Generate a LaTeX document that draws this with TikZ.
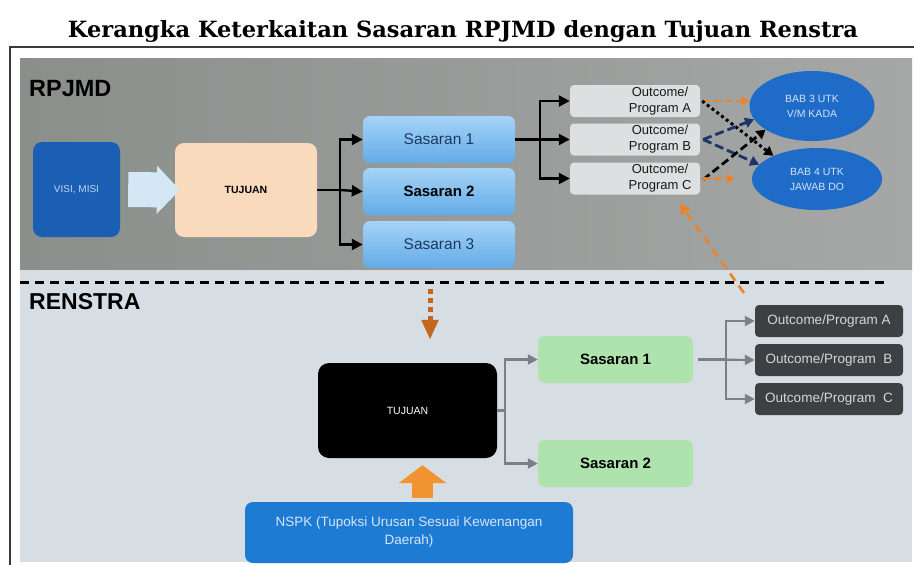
\documentclass[tikz,border=0pt]{standalone}
\usepackage{fontspec}
\setmainfont{Liberation Sans}
\newfontfamily\titlefont{DejaVu Serif}
\usetikzlibrary{arrows.meta,shapes.geometric,calc}
\definecolor{topgreyL}{HTML}{8B8F8C}
\definecolor{topgreyR}{HTML}{A5A8A6}
\definecolor{lowpanel}{HTML}{D6DEE3}
\definecolor{visiblue}{HTML}{1B5FB5}
\definecolor{visitext}{HTML}{BCD6F0}
\definecolor{peach}{HTML}{F9DABD}
\definecolor{sasTop}{HTML}{A6D3F7}
\definecolor{sasBot}{HTML}{62ABE7}
\definecolor{sastext}{HTML}{1E3A5F}
\definecolor{outT}{HTML}{DDE0E1}
\definecolor{babblue}{HTML}{1F6BC8}
\definecolor{babtext}{HTML}{D3E2F3}
\definecolor{sgreen}{HTML}{AEE3AE}
\definecolor{outL}{HTML}{3C4043}
\definecolor{outLtext}{HTML}{D3D7DA}
\definecolor{nspkblue}{HTML}{1E7BD3}
\definecolor{nspktext}{HTML}{D6E6F7}
\definecolor{orgup}{HTML}{F19331}
\definecolor{orgdark}{HTML}{C4661F}
\definecolor{orgdash}{HTML}{E8842A}
\definecolor{navy}{HTML}{1C3466}
\definecolor{lgrey}{HTML}{7B8084}
\definecolor{arrowblue}{HTML}{D4E7F5}
\definecolor{framegrey}{HTML}{3A3A3A}
\begin{document}
\begin{tikzpicture}[x=1pt,y=-1pt,
  box/.style={rounded corners=7pt, inner sep=0pt, align=center},
  sasT/.style={box, top color=sasTop, bottom color=sasBot, minimum width=152pt, minimum height=47pt, text=sastext, font=\fontsize{15.5}{18}\selectfont},
  obox/.style={box, fill=outT, minimum width=130pt, minimum height=32pt, rounded corners=4pt},
  otext/.style={align=center, text=black!90, font=\fontsize{13}{16}\selectfont, inner sep=0pt},
  bab/.style={ellipse, fill=babblue, inner sep=0pt, text=babtext, align=center, font=\fontsize{10.5}{15}\selectfont},
  sasL/.style={box, fill=sgreen, minimum width=155pt, minimum height=47pt, font=\bfseries\fontsize{15}{18}\selectfont},
  outLbox/.style={box, fill=outL, minimum width=148pt, minimum height=32pt, rounded corners=4pt, text=outLtext, font=\fontsize{13.5}{16}\selectfont},
  conn/.style={line width=2.4pt, draw=black, -{Triangle[length=11pt,width=11pt]}},
  gconn/.style={line width=2.2pt, draw=lgrey, -{Triangle[length=10pt,width=10pt]}},
  odash/.style={line width=2.6pt, draw=orgdash, dash pattern=on 7pt off 4pt, -{Triangle[length=8pt,width=9pt]}},
  bdot/.style={line width=3pt, draw=black, dash pattern=on 3pt off 3pt, -{Triangle[length=9pt,width=10pt]}},
  ndash/.style={line width=2.8pt, draw=navy, dash pattern=on 9pt off 4pt, -{Triangle[length=9pt,width=10pt]}},
  bdash/.style={line width=2.8pt, draw=black, dash pattern=on 8pt off 4pt, -{Triangle[length=9pt,width=10pt]}}
]
\useasboundingbox (0,0) rectangle (914,565);
\fill[white] (0,0) rectangle (914,565);
% title
\node[anchor=base, inner sep=0pt] (title) at (463,37) {\titlefont\bfseries\resizebox{790pt}{17pt}{Kerangka Keterkaitan Sasaran RPJMD dengan Tujuan Renstra}};
% frame
\draw[framegrey, line width=2pt] (10,566) -- (10,47) -- (915,47);
% panels
\shade[left color=topgreyL, right color=topgreyR] (20,58) rectangle (912,270);
\fill[lowpanel] (20,270) rectangle (912,562);
% section labels
\node[anchor=base west, inner sep=0pt, font=\bfseries\fontsize{23.5}{24}\selectfont] (rpjmd) at (29,96) {RPJMD};
\node[anchor=base west, inner sep=0pt, font=\bfseries\fontsize{23}{24}\selectfont] (renstra) at (29,309) {RENSTRA};
% separator
\coordinate (sepL) at (20,282);
\coordinate (sepR) at (887,282);
\draw[line width=3pt, dash pattern=on 9pt off 6pt] (sepL) -- (sepR);

% ---------- RPJMD ----------
\node[box, fill=visiblue, minimum width=87pt, minimum height=95pt, rounded corners=9pt, text=visitext, font=\fontsize{10}{12}\selectfont] (visi) at (76.5,189.5) {VISI, MISI};
\node[box, fill=peach, minimum width=142pt, minimum height=94pt, rounded corners=9pt, font=\bfseries\fontsize{10.5}{12}\selectfont] (tuj1) at (246,190) {TUJUAN};
\draw[line width=35pt, draw=arrowblue, -{Triangle[width=47pt,length=23pt]}, shorten >=-5pt] ([xshift=8pt]visi.east) -- (tuj1.west);

\node[sasT] (sas1) at (439,139.5) {Sasaran 1};
\node[sasT, text=black, font=\bfseries\fontsize{15}{18}\selectfont] (sas2) at (439,191.5) {Sasaran 2};
\node[sasT] (sas3) at (439,244.5) {Sasaran 3};
\draw[line width=2.4pt] (tuj1.east) -- ++(23,0);
\draw[conn] ([xshift=23pt]tuj1.east) |- (sas1.west);
\draw[conn] ([xshift=23pt]tuj1.east) -- (sas2.west);
\draw[conn] ([xshift=23pt]tuj1.east) |- (sas3.west);

\node[obox, label={[otext, xshift=25pt]center:Outcome/\\Program A}] (outA) at (635,101) {};
\node[obox, label={[otext, xshift=25pt]center:Outcome/\\Program B}] (outB) at (635,139.5) {};
\node[obox, label={[otext, xshift=25pt]center:Outcome/\\Program C}] (outC) at (635,178.5) {};
\draw[line width=2.4pt] (sas1.east) -- ++(25,0);
\draw[conn] ([xshift=25pt]sas1.east) |- (outA.west);
\draw[conn] ([xshift=25pt]sas1.east) -- (outB.west);
\draw[conn] ([xshift=25pt]sas1.east) |- (outC.west);

\node[bab, minimum width=125pt, minimum height=70pt] (bab3) at (812,106) {BAB 3 UTK\\V/M KADA};
\node[bab, minimum width=130pt, minimum height=62pt] (bab4) at (817,179) {BAB 4 UTK\\JAWAB DO};

\draw[odash] ([xshift=3pt]outA.east) -- (bab3.west |- outA.east);
\draw[bdot] ([xshift=2pt]outA.east) -- (bab4.152);
\draw[ndash] ([xshift=3pt]outB.east) -- (bab3.193);
\draw[ndash] ([xshift=3pt]outB.east) -- (bab4.166);
\draw[bdash] ([xshift=3pt,yshift=-1pt]outC.east) -- (bab3.207);
\coordinate (ocEnd) at (735,179);
\draw[odash] ([xshift=3pt]outC.east) -- (ocEnd);
\coordinate (oStart) at (744,293);
\draw[odash, dash pattern=on 9pt off 6pt, -{Triangle[length=10pt,width=11pt]}] (oStart) -- ([xshift=45pt,yshift=-9pt]outC.south);

% ---------- RENSTRA ----------
\node[box, fill=black, minimum width=179pt, minimum height=95pt, rounded corners=11pt, text=white, font=\fontsize{10.5}{12}\selectfont] (tuj2) at (407.5,410.5) {TUJUAN};
\coordinate (dStart) at (430,289);
\draw[line width=5pt, draw=orgdark, dash pattern=on 5pt off 4pt, -{Triangle[width=16pt,length=20pt]}, shorten >=23pt] (dStart) -- (dStart |- tuj2.north);

\node[box, fill=nspkblue, minimum width=328pt, minimum height=61pt, rounded corners=8pt, text=nspktext, font=\fontsize{13.5}{18}\selectfont] (nspk) at (409,532.5) {NSPK (Tupoksi Urusan Sesuai Kewenangan\\Daerah)};
\draw[line width=21pt, draw=orgup, -{Triangle[width=47pt,length=18pt]}] ([xshift=13.5pt,yshift=4pt]nspk.north) -- ([xshift=15pt,yshift=-7pt]tuj2.south);

\node[sasL] (sasL1) at (615.5,359.5) {Sasaran 1};
\node[sasL] (sasL2) at (615.5,463.5) {Sasaran 2};
\draw[line width=2.2pt, draw=lgrey] (tuj2.east) -- ++(8,0);
\draw[gconn] ([xshift=8pt]tuj2.east) |- (sasL1.west);
\draw[gconn] ([xshift=8pt]tuj2.east) |- (sasL2.west);

\node[outLbox] (outLA) at (829,321) {Outcome/Program A};
\node[outLbox] (outLB) at (829,360) {Outcome/Program\ \ B};
\node[outLbox] (outLC) at (829,399) {Outcome/Program\ \ C};
\draw[line width=2.2pt, draw=lgrey] ([xshift=5pt]sasL1.east) -- ++(29,0);
\draw[gconn] ([xshift=33pt]sasL1.east) |- (outLA.west);
\draw[gconn] ([xshift=5pt]sasL1.east) -- (outLB.west);
\draw[gconn] ([xshift=33pt]sasL1.east) |- (outLC.west);
\end{tikzpicture}
\end{document}
